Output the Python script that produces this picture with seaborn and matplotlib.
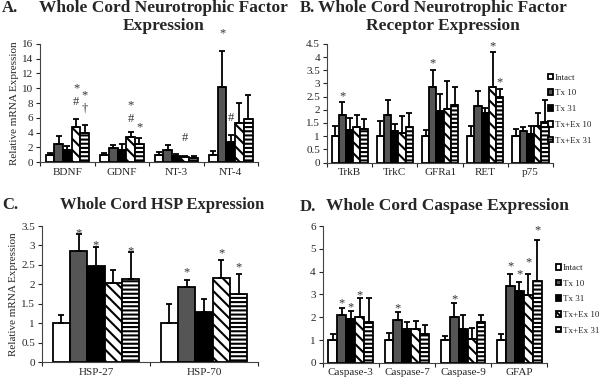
import numpy as np
import pandas as pd
import seaborn as sns
import matplotlib
matplotlib.use('Agg')
import matplotlib.pyplot as plt
from matplotlib.ticker import FuncFormatter, FixedLocator
from matplotlib.patches import Patch

groups = ['Intact', 'Tx 10', 'Tx 31', 'Tx+Ex 10', 'Tx+Ex 31']

# Panel A - neurotrophic factors
a_genes = ['BDNF', 'GDNF', 'NT-3', 'NT-4']
a_mean = [[1.0, 2.4, 1.6, 4.7, 4.0],
          [1.0, 1.9, 1.7, 3.4, 2.4],
          [1.0, 1.6, 0.8, 0.65, 0.6],
          [1.0, 10.2, 2.7, 5.3, 5.8]]
a_err = [[0.25, 1.2, 0.6, 1.2, 1.0],
         [0.3, 0.4, 0.8, 0.7, 0.8],
         [0.4, 0.7, 0.3, 0.25, 0.3],
         [0.5, 4.9, 1.0, 2.7, 3.3]]
a_marks = [('BDNF', 3, '*', 10.0), ('BDNF', 3, '#', 8.1),
           ('BDNF', 4, '*', 9.0), ('BDNF', 4, '\u2020', 7.2),
           ('GDNF', 3, '*', 7.7), ('GDNF', 3, '#', 5.9),
           ('GDNF', 4, '*', 4.7), ('NT-3', 3, '#', 3.2),
           ('NT-4', 1, '*', 17.4), ('NT-4', 2, '#', 6.0)]

# Panel B - receptors
b_genes = ['TrkB', 'TrkC', 'GFRa1', 'RET', 'p75']
b_mean = [[1.0, 1.8, 1.25, 1.35, 1.28],
          [1.0, 1.8, 1.2, 1.12, 1.35],
          [1.0, 2.85, 1.97, 2.03, 2.18],
          [1.0, 2.15, 1.88, 2.87, 2.48],
          [1.0, 1.18, 1.1, 1.38, 1.55]]
b_err = [[0.4, 0.48, 0.45, 0.47, 0.37],
         [0.58, 0.58, 0.27, 0.63, 0.53],
         [0.23, 0.67, 0.63, 1.07, 0.69],
         [0.38, 0.55, 0.17, 1.33, 0.32],
         [0.27, 0.15, 0.28, 0.5, 0.83]]
b_marks = [('TrkB', 1, '*', 2.5), ('GFRa1', 1, '*', 3.75),
           ('RET', 3, '*', 4.4), ('RET', 4, '*', 3.05)]

# Panel C - heat shock proteins
c_genes = ['HSP-27', 'HSP-70']
c_mean = [[1.0, 2.85, 2.46, 2.03, 2.14],
          [1.0, 1.93, 1.29, 2.16, 1.74]]
c_err = [[0.22, 0.45, 0.5, 0.35, 0.7],
         [0.5, 0.17, 0.34, 0.46, 0.53]]
c_marks = [('HSP-27', 1, '*', 3.3), ('HSP-27', 2, '*', 3.0),
           ('HSP-27', 4, '*', 2.85), ('HSP-70', 1, '*', 2.3),
           ('HSP-70', 3, '*', 2.8), ('HSP-70', 4, '*', 2.45)]

# Panel D - caspases
d_genes = ['Caspase-3', 'Caspase-7', 'Caspase-9', 'GFAP']
d_mean = [[1.0, 2.1, 1.93, 2.02, 1.8],
          [1.0, 1.9, 1.48, 1.48, 1.28],
          [1.0, 2.0, 1.5, 1.05, 1.78],
          [1.0, 3.38, 3.15, 2.97, 3.6]]
d_err = [[0.28, 0.32, 0.35, 0.83, 1.05],
         [0.32, 0.35, 0.32, 0.34, 0.4],
         [0.2, 0.62, 0.62, 0.5, 0.34],
         [0.25, 0.5, 0.38, 0.93, 1.77]]
d_marks = [('Caspase-3', 1, '*', 2.6), ('Caspase-3', 2, '*', 2.45),
           ('Caspase-3', 3, '*', 2.95), ('Caspase-7', 1, '*', 2.4),
           ('Caspase-9', 1, '*', 2.8), ('GFAP', 1, '*', 4.25),
           ('GFAP', 2, '*', 3.9), ('GFAP', 3, '*', 4.4),
           ('GFAP', 4, '*', 5.8)]

fills = ['white', '#555555', 'black', 'white', 'white']
hatches = ['', '', '', '\\\\\\', '----']

sns.set_style('ticks')
plt.rcParams['font.family'] = ['Liberation Serif', 'DejaVu Serif']
plt.rcParams['hatch.linewidth'] = 1.5
plt.rcParams['hatch.color'] = 'black'


def draw_panel(ax, genes, mean, err, marks, ymax, ystep, ylabel=None):
    df = pd.DataFrame([(g, grp, mean[i][j], err[i][j])
                       for i, g in enumerate(genes)
                       for j, grp in enumerate(groups)],
                      columns=['gene', 'group', 'value', 'err'])
    sns.barplot(data=df, x='gene', y='value', hue='group', order=genes,
                hue_order=groups, palette=fills, errorbar=None,
                width=0.8, edgecolor='black', linewidth=1.3, ax=ax,
                legend=False)
    bar_sets = list(ax.containers)
    pos = {}
    for j, cont in enumerate(bar_sets):
        for i, bar in enumerate(cont.patches):
            bar.set_hatch(hatches[j])
            bar.set_facecolor(fills[j])
            x = bar.get_x() + bar.get_width() / 2
            pos[(genes[i], j)] = x
            # upper half only, like the original figure
            ax.errorbar(x, mean[i][j], yerr=[[0], [err[i][j]]], fmt='none',
                        ecolor='black', elinewidth=1.3, capsize=2.5,
                        capthick=1.3, zorder=1)
    for g, j, s, y in marks:
        ax.text(pos[(g, j)], y, s, ha='center', va='center', fontsize=9,
                color='#333333', clip_on=False)
    ax.set_xlim(-0.5, len(genes) - 0.5)
    ax.set_ylim(0, ymax)
    ax.yaxis.set_major_locator(FixedLocator(np.arange(0, ymax + 1e-6, ystep)))
    ax.yaxis.set_major_formatter(FuncFormatter(lambda v, p: '{:g}'.format(round(v, 2))))
    ax.xaxis.set_minor_locator(FixedLocator(np.arange(-0.5, len(genes), 1.0)))
    ax.tick_params(axis='x', which='major', length=0, labelsize=8, pad=4)
    ax.tick_params(axis='x', which='minor', length=3, width=0.8, direction='out')
    ax.tick_params(axis='y', length=3, width=0.8, labelsize=8, pad=2)
    ax.set_xlabel('')
    ax.set_ylabel(ylabel if ylabel else '', fontsize=8, labelpad=2)
    for sp in ['top', 'right']:
        ax.spines[sp].set_visible(False)
    for sp in ['left', 'bottom']:
        ax.spines[sp].set_linewidth(0.8)
        ax.spines[sp].set_color('#444444')


def add_legend(fig, anchor):
    handles = [Patch(facecolor=fills[j], edgecolor='black', hatch=hatches[j],
                     linewidth=1.3, label=groups[j]) for j in range(5)]
    fig.legend(handles=handles, loc='upper left', bbox_to_anchor=anchor,
               frameon=False, fontsize=6.5, handlelength=0.6, handleheight=0.6,
               handletextpad=0.2, labelspacing=0.85, borderpad=0, borderaxespad=0)


fig = plt.figure(figsize=(6, 3.78), dpi=100)
ax_a = fig.add_axes([0.067, 0.571, 0.363, 0.313])
ax_b = fig.add_axes([0.545, 0.570, 0.377, 0.314])
ax_c = fig.add_axes([0.070, 0.042, 0.360, 0.360])
ax_d = fig.add_axes([0.538, 0.040, 0.374, 0.362])

draw_panel(ax_a, a_genes, a_mean, a_err, a_marks, 16, 2,
           ylabel='Relative mRNA Expression')
draw_panel(ax_b, b_genes, b_mean, b_err, b_marks, 4.5, 0.5)
draw_panel(ax_c, c_genes, c_mean, c_err, c_marks, 3.5, 0.5,
           ylabel='Relative mRNA Expression')
draw_panel(ax_d, d_genes, d_mean, d_err, d_marks, 6, 1)
add_legend(fig, (0.913, 0.805))
add_legend(fig, (0.926, 0.302))

tkw = dict(fontsize=12.5, fontweight='bold', ha='center', va='center')
lkw = dict(fontsize=12, fontweight='bold', va='center')
fig.text(0.003, 0.978, 'A.', **lkw)
fig.text(0.272, 0.978, 'Whole Cord Neurotrophic Factor', **tkw)
fig.text(0.272, 0.932, 'Expression', **tkw)
fig.text(0.500, 0.978, 'B.', **lkw)
fig.text(0.738, 0.978, 'Whole Cord Neurotrophic Factor', **tkw)
fig.text(0.738, 0.932, 'Receptor Expression', **tkw)
fig.text(0.003, 0.458, 'C.', **lkw)
fig.text(0.270, 0.458, 'Whole Cord HSP Expression', fontsize=12,
         fontweight='bold', ha='center', va='center')
fig.text(0.500, 0.452, 'D.', **lkw)
fig.text(0.745, 0.455, 'Whole Cord Caspase Expression', **tkw)

fig.savefig('out.png', dpi=100)
